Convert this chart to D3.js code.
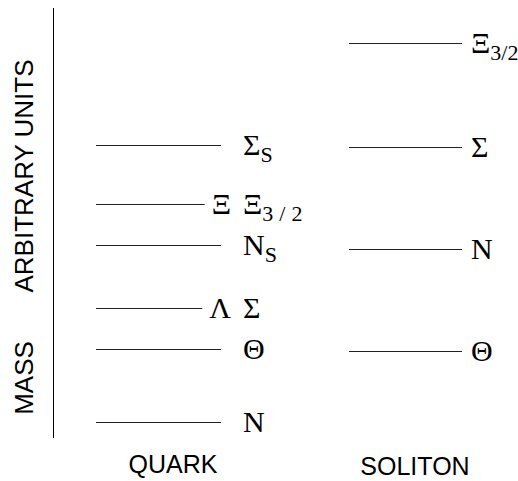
<!DOCTYPE html>
<html>
<head>
<meta charset="utf-8">
<script src="https://cdn.jsdelivr.net/npm/d3@7"></script>
<style>
  html, body { margin: 0; padding: 0; background: #fff; }
  svg { display: block; }
</style>
</head>
<body>
<svg id="chart" width="518" height="481"></svg>
<script>
// ---- data ----
const columns = ["QUARK", "SOLITON"];
const axisLabels = ["MASS", "ARBITRARY UNITS"];

const quarkLabels  = ["Σ", "Ξ", "N", "Σ", "Θ", "N"];
const quarkSubs    = ["S", "3/2", "S", "", "", ""];
const quarkPrefix  = ["", "Ξ", "", "Λ", "", ""];
const quarkMass    = [293, 234, 193, 130, 89, 16];

const solitonLabels = ["Ξ", "Σ", "N", "Θ"];
const solitonSubs   = ["3/2", "", "", ""];
const solitonMass   = [395, 291, 189, 87];

// ---- layout ----
const W = 518, H = 481;
const svg = d3.select("#chart");
const y = d3.scaleLinear().domain([0, 430]).range([438, 8]);
const xCol = d3.scalePoint().domain(columns).range([173, 415]);

const colLayout = {
  QUARK:   { lineStart: -77, lineEnd: 48, labelX: 70, subSpacing: 6 },
  SOLITON: { lineStart: -66, lineEnd: 47, labelX: 56, subSpacing: 0 }
};

const serif = "'Liberation Serif', 'Times New Roman', serif";
const sans = "'Liberation Sans', Arial, Helvetica, sans-serif";
const greekSize = 30;

// vertical mass axis
svg.append("line")
  .attr("x1", 53.5).attr("x2", 53.5)
  .attr("y1", y(0)).attr("y2", y(430))
  .attr("stroke", "#000").attr("stroke-width", 1);

// axis title
const axisPos = [60, 262];
svg.selectAll("text.axis-title")
  .data(axisLabels)
  .join("text")
  .attr("class", "axis-title")
  .attr("transform", (d, i) => `translate(33,${y(axisPos[i])}) rotate(-90)`)
  .attr("text-anchor", "middle")
  .attr("font-family", sans)
  .attr("font-size", 26)
  .attr("fill", "#000")
  .text(d => d);

// column labels
svg.selectAll("text.col")
  .data(columns)
  .join("text")
  .attr("class", "col")
  .attr("x", d => xCol(d))
  .attr("y", (d, i) => i === 0 ? 473 : 475)
  .attr("text-anchor", "middle")
  .attr("font-family", sans)
  .attr("font-size", 25)
  .attr("fill", "#000")
  .text(d => d);

function drawColumn(col, labels, subs, prefixes, masses) {
  const L = colLayout[col];
  const cx = xCol(col);
  const levels = masses.map((m, i) => ({
    mass: m, label: labels[i], sub: subs[i], prefix: prefixes ? prefixes[i] : ""
  }));
  const g = svg.append("g");
  levels.forEach(d => {
    const yy = Math.round(y(d.mass)) + 0.5;
    const lx = cx + L.labelX;
    const t = g.append("text")
      .attr("x", lx).attr("y", yy + 9)
      .attr("font-family", serif)
      .attr("font-size", greekSize)
      .attr("fill", "#000");
    t.append("tspan").text(d.label);
    if (d.sub) {
      t.append("tspan")
        .attr("font-size", 22)
        .attr("dy", 7)
        .attr("letter-spacing", d.sub === "S" ? 0 : L.subSpacing)
        .text(d.sub);
    }
    let lineEnd = cx + L.lineEnd;
    if (d.prefix) {
      const p = g.append("text")
        .attr("x", lx - 12).attr("y", yy + 9)
        .attr("text-anchor", "end")
        .attr("font-family", serif)
        .attr("font-size", greekSize)
        .attr("fill", "#000")
        .text(d.prefix);
      const bb = p.node().getBBox();
      lineEnd = Math.min(lineEnd, bb.x - 7);
    }
    g.append("line")
      .attr("x1", cx + L.lineStart).attr("x2", lineEnd)
      .attr("y1", yy).attr("y2", yy)
      .attr("stroke", "#222").attr("stroke-width", 1.2);
  });
}

drawColumn("QUARK", quarkLabels, quarkSubs, quarkPrefix, quarkMass);
drawColumn("SOLITON", solitonLabels, solitonSubs, null, solitonMass);
</script>
</body>
</html>
